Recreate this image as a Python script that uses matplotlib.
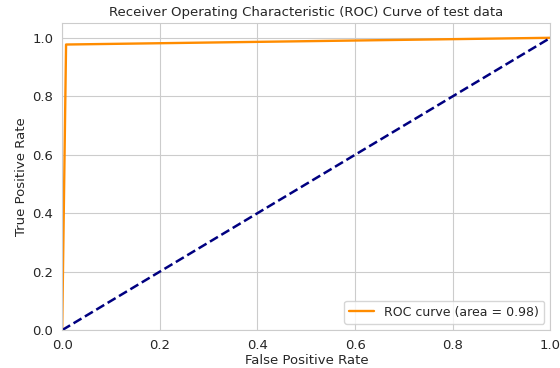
import matplotlib
matplotlib.use("Agg")
import matplotlib.pyplot as plt
import seaborn as sns

# ROC points for the test set
fpr = [0.0, 0.008, 1.0]
tpr = [0.0, 0.977, 1.0]
roc_auc = 0.98

chance_x = [0, 1]
chance_y = [0, 1]

sns.set_style("whitegrid")
plt.rcParams['font.family'] = ['DejaVu Sans']

fig, ax = plt.subplots(figsize=(5.6, 3.68), dpi=100)
ax.plot(fpr, tpr, color='darkorange', lw=1.7,
        label='ROC curve (area = %0.2f)' % roc_auc)
ax.plot(chance_x, chance_y, color='navy', lw=1.8, linestyle='--')
ax.set_xlim([0.0, 1.0])
ax.set_ylim([0.0, 1.05])
ax.set_xlabel('False Positive Rate', fontsize=9.5, labelpad=1)
ax.set_ylabel('True Positive Rate', fontsize=9.5, labelpad=3)
ax.set_title('Receiver Operating Characteristic (ROC) Curve of test data', fontsize=9.5, pad=5)
ax.tick_params(labelsize=9.5, pad=3)
ax.legend(loc="lower right", fontsize=9)

plt.subplots_adjust(left=0.111, right=0.983, top=0.937, bottom=0.103)
plt.savefig('out.png', dpi=100)
